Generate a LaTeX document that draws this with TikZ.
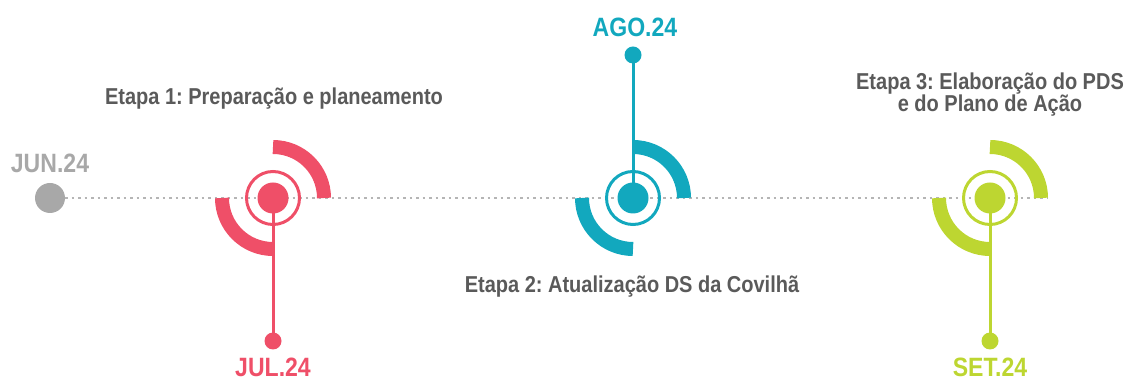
\documentclass[tikz,border=0pt]{standalone}
\usepackage{fontspec}
\setmainfont{Liberation Sans}[FakeStretch=0.87]
\usetikzlibrary{calc}

\definecolor{cpink}{HTML}{EF4F68}
\definecolor{cteal}{HTML}{12A8BE}
\definecolor{cgreen}{HTML}{BDD631}
\definecolor{cgray}{HTML}{A8A8A8}
\definecolor{ctext}{HTML}{5A5A5A}
\newcommand{\stagesize}{\fontsize{23}{22}\selectfont\bfseries\frenchspacing\spaceskip=5.5pt plus 2pt\relax}

\begin{document}
\begin{tikzpicture}[x=1pt, y=1pt, line cap=butt,
    datefont/.style={font=\fontsize{26.5}{26.5}\selectfont\bfseries, anchor=base, inner sep=0},
    stagefont/.style={font=\stagesize, text=ctext, inner sep=0},
    bigdot/.style={circle, fill=#1, minimum size=31, inner sep=0},
    smalldot/.style={circle, fill=#1, minimum size=17, inner sep=0},
    stem/.style={#1, line width=3},
    ring/.style={#1, line width=3},
    band/.style={#1, line width=14},
    dotline/.style={cgray!85, line width=2.5, dash pattern=on 2.5pt off 4pt}]
    \useasboundingbox (0,0) rectangle (1129,382);

    % 时间轴
    \node[bigdot=cgray, minimum size=30] (jun) at (50,184) {};
    \coordinate (axisend) at (1048,184);
    \draw[dotline] (jun.east) -- (axisend);
    \node[datefont, text=cgray] (junlab) at (50,209) {JUN.24};

    % 第一阶段
    \node[smalldot=cpink] (juldot) at (273,41) {};
    \node[bigdot=cpink] (jul) at (273,184) {};
    \draw[stem=cpink] (jul.center) -- (juldot.center);
    \draw[ring=cpink] (jul.center) circle (26.5);
    \draw[band=cpink] ($(jul.center)+(51,0)$) arc (0:90:51);
    \draw[band=cpink] ($(jul.center)+(-51,0)$) arc (180:270:51);
    \node[datefont, text=cpink] (jullab) at (273,5) {JUL.24};
    \node[stagefont, anchor=base] (stage1) at (274,277) {Etapa 1: Preparação e planeamento};

    % 第二阶段
    \node[smalldot=cteal] (agodot) at (633,327) {};
    \node[bigdot=cteal] (ago) at (633,184) {};
    \draw[stem=cteal] (ago.center) -- (agodot.center);
    \draw[ring=cteal] (ago.center) circle (26.5);
    \draw[band=cteal] ($(ago.center)+(51,0)$) arc (0:90:51);
    \draw[band=cteal] ($(ago.center)+(-51,0)$) arc (180:270:51);
    \node[datefont, text=cteal] (agolab) at (635,345) {AGO.24};
    \node[stagefont, anchor=base] (stage2) at (632,89) {Etapa 2: Atualização DS da Covilhã};

    % 第三阶段
    \node[smalldot=cgreen] (setdot) at (990,41) {};
    \node[bigdot=cgreen] (set) at (990,184) {};
    \draw[stem=cgreen] (set.center) -- (setdot.center);
    \draw[ring=cgreen] (set.center) circle (26.5);
    \draw[band=cgreen] ($(set.center)+(51,0)$) arc (0:90:51);
    \draw[band=cgreen] ($(set.center)+(-51,0)$) arc (180:270:51);
    \node[datefont, text=cgreen] (setlab) at (990,5) {SET.24};
    \node[stagefont, anchor=base, align=center] (stage3) at (990,270) {Etapa 3: Elaboração do PDS\\e do Plano de Ação};
\end{tikzpicture}
\end{document}
